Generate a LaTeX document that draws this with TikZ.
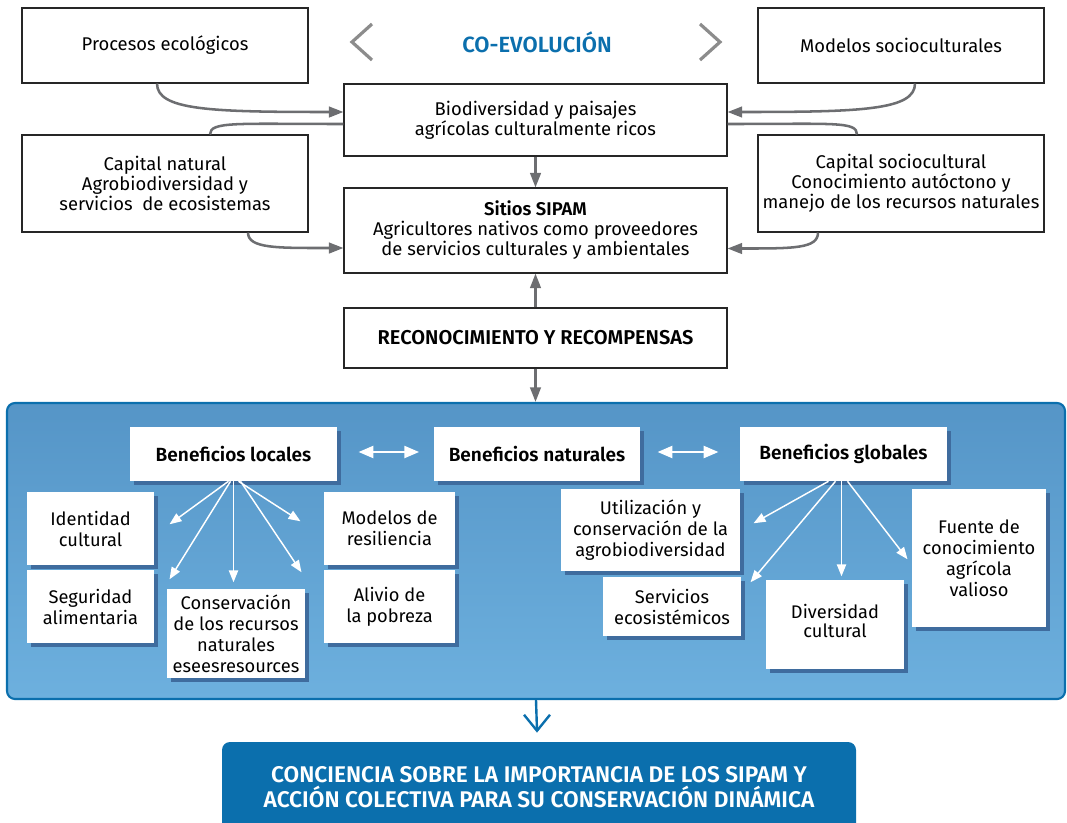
\documentclass[tikz,border=0pt]{standalone}
\usepackage{fontspec}
\setmainfont{Fira Sans}[BoldFont={Fira Sans SemiBold}]
\usetikzlibrary{arrows.meta,calc,shadows}

\definecolor{fgray}{HTML}{6D6E71}
\definecolor{chevgray}{HTML}{8C8C8C}
\definecolor{fblue}{HTML}{0B6FAD}
\definecolor{ptop}{HTML}{5595C7}
\definecolor{pbot}{HTML}{6DB0DE}
\definecolor{shblue}{HTML}{3F6C9E}

\tikzset{
  wh/.style 2 args={minimum width=#1*0.75pt, minimum height=#2*0.75pt},
  topbox/.style={draw=black!85, line width=0.8pt, fill=white, inner sep=0pt,
    align=center, font=\fontsize{13.8}{15}\selectfont},
  benbox/.style={fill=white, inner sep=0pt, align=center,
    font=\fontsize{13.7}{15.75}\selectfont,
    drop shadow={shadow xshift=3pt, shadow yshift=-3pt, fill=shblue, opacity=1}},
  bentitle/.style={font=\fontsize{14.3}{16}\selectfont\bfseries},
  conn/.style={draw=fgray, line width=1.9pt, -{Triangle[length=11pt,width=8pt]}},
  link/.style={draw=fgray, line width=1.9pt},
  chev/.style={draw=chevgray, line width=2.4pt},
  spoke/.style={draw=white, line width=1.1pt, -{Triangle[length=9pt,width=7pt]}},
  duo/.style={draw=white, line width=1.5pt,
    {Triangle[length=11pt,width=9pt]}-{Triangle[length=11pt,width=9pt]}},
  bluearrow/.style={draw=fblue, line width=1.8pt, line join=miter}
}

\begin{document}
\begin{tikzpicture}[x=0.75pt,y=-0.75pt]
  \useasboundingbox (0,0) rectangle (1067,822);

  % top row
  \node[topbox, wh={286}{75}] (proc) at (165,45.5) {Procesos ecológicos};
  \node[topbox, wh={286}{75}] (modsoc) at (901,45.5) {Modelos socioculturales};
  \node[text=fblue, font=\fontsize{16.5}{18}\selectfont\bfseries] (coevo) at (537,42) {CO-EVOLUCIÓN};
  %chevrons
  \draw[chev] ($(coevo)+(-165,-18)$) -- ++(-20,18) -- ++(20,18);
  \draw[chev] ($(coevo)+(163,-18)$) -- ++(20,18) -- ++(-20,18);

  % middle column
  \node[topbox, wh={383}{72}] (bio) at (535.5,120)
    {Biodiversidad y paisajes\\agrícolas culturalmente ricos};
  \node[topbox, wh={383}{85}] (sitios) at (535.5,230.5)
    {\textbf{Sitios SIPAM}\\Agricultores nativos como proveedores\\de servicios culturales y ambientales};
  \node[topbox, wh={383}{60}, font=\fontsize{15}{17}\selectfont\bfseries] (recon) at (535.5,338)
    {RECONOCIMIENTO Y RECOMPENSAS};

  % capital boxes
  \node[topbox, wh={286}{97}] (capnat) at (165,183.5)
    {Capital natural\\Agrobiodiversidad y\\servicios \ de ecosistemas};
  \node[topbox, wh={286}{97}] (capsoc) at (901,183.5)
    {Capital sociocultural\\Conocimiento autóctono y\\manejo de los recursos naturales};

  % curved connectors
  \draw[conn] ($(proc.south)+(-8,0)$) to[out=-90,in=180,out distance=20pt,in distance=100pt] ($(bio.west)+(0,-8)$);
  \draw[conn] ($(modsoc.south)+(14,0)$) to[out=-90,in=0,out distance=20pt,in distance=100pt] ($(bio.east)+(0,-8)$);
  \draw[link] ($(bio.west)+(0,4)$) to[out=180,in=90,out distance=80pt,in distance=10pt] ($(capnat.north)+(45,0)$);
  \draw[link] ($(bio.east)+(0,4)$) to[out=0,in=90,out distance=80pt,in distance=10pt] ($(capsoc.north)+(-44,0)$);
  \draw[conn] ($(capnat.south)+(83,0)$) to[out=-90,in=180,out distance=12pt,in distance=50pt] ($(sitios.west)+(0,17.5)$);
  \draw[conn] ($(capsoc.south)+(-83,0)$) to[out=-90,in=0,out distance=12pt,in distance=50pt] ($(sitios.east)+(0,18)$);

  % vertical arrows
  \draw[conn] (bio.south) -- (sitios.north);
  \draw[conn] (recon.north) -- (sitios.south);

  % blue panel
  \node[draw=fblue, line width=1.6pt, rounded corners=6pt, top color=ptop, bottom color=pbot,
    wh={1058}{296}] (panel) at (536,551) {};
  \draw[conn] (recon.south) -- (recon.south |- panel.north);

  \node[benbox, bentitle, wh={207}{54}] (benloc) at (233.5,454) {Beneficios locales};
  \node[benbox, bentitle, wh={206}{54}] (bennat) at (537,454) {Beneficios naturales};
  \node[benbox, bentitle, wh={207}{54}] (benglo) at (843.5,454) {Beneficios globales};
  \draw[duo, shorten <=16pt, shorten >=11pt] ($(benloc.east)+(0,-2)$) -- ($(bennat.west)+(0,-2)$);
  \draw[duo, shorten <=13pt, shorten >=16pt] ($(bennat.east)+(0,-2)$) -- ($(benglo.west)+(0,-2)$);

  % local benefits
  \node[benbox, wh={127}{73}] (ident) at (90.5,528.5) {Identidad\\cultural};
  \node[benbox, wh={127}{73}] (segur) at (90.5,606.5) {Seguridad\\alimentaria};
  \node[benbox, wh={138}{89}] (conserv) at (236,633.5) {Conservación\\de los recursos\\naturales\\eseesresources};
  \node[benbox, wh={131}{73}] (resil) at (389.5,528.5) {Modelos de\\resiliencia};
  \node[benbox, wh={131}{73}] (alivio) at (389.5,606.5) {Alivio de\\la pobreza};

  \draw[spoke] ($(benloc.south)+(-5,0)$) -- ++(-59,43);
  \draw[spoke] ($(benloc.south)+(-3,0)$) -- ++(-61,98);
  \draw[spoke] (benloc.south) -- ++(0,101);
  \draw[spoke] ($(benloc.south)+(5,0)$) -- ++(62,40);
  \draw[spoke] ($(benloc.south)+(7,0)$) -- ++(61,91);

  % global benefits
  \node[benbox, wh={179}{82}] (util) at (650.5,530) {Utilización y\\conservación de la\\agrobiodiversidad};
  \node[benbox, wh={138}{59}] (servic) at (672,606.5) {Servicios\\ecosistémicos};
  \node[benbox, wh={138}{89}] (divers) at (835,624.5) {\raisebox{5pt}{\shortstack{Diversidad\\[1pt]cultural}}};
  \node[benbox, wh={134}{138}] (fuente) at (979,558) {Fuente de\\conocimiento\\agrícola\\valioso};

  \draw[spoke] ($(benglo.south)+(-15,0)$) -- ++(-75,42);
  \draw[spoke] ($(benglo.south)+(-8,0)$) -- ++(-85,101);
  \draw[spoke] ($(benglo.south)+(-2,0)$) -- ++(0,95);
  \draw[spoke] ($(benglo.south)+(4,0)$) -- ++(60,78);

  % bottom box
  \node[fill=fblue, rounded corners=6pt, wh={634}{90}, text=white, align=center, inner sep=0pt,
    font=\fontsize{17}{19}\selectfont\bfseries] (concien) at (539,787)
    {CONCIENCIA SOBRE LA IMPORTANCIA DE LOS SIPAM Y\\ACCIÓN COLECTIVA PARA SU CONSERVACIÓN DINÁMICA};
  \draw[bluearrow] (panel.south) -- ($(concien.north)+(-2,-11)$);
  \draw[bluearrow] ($(concien.north)+(-15,-27)$) -- ++(13,16) -- ++(13,-16);
\end{tikzpicture}
\end{document}
